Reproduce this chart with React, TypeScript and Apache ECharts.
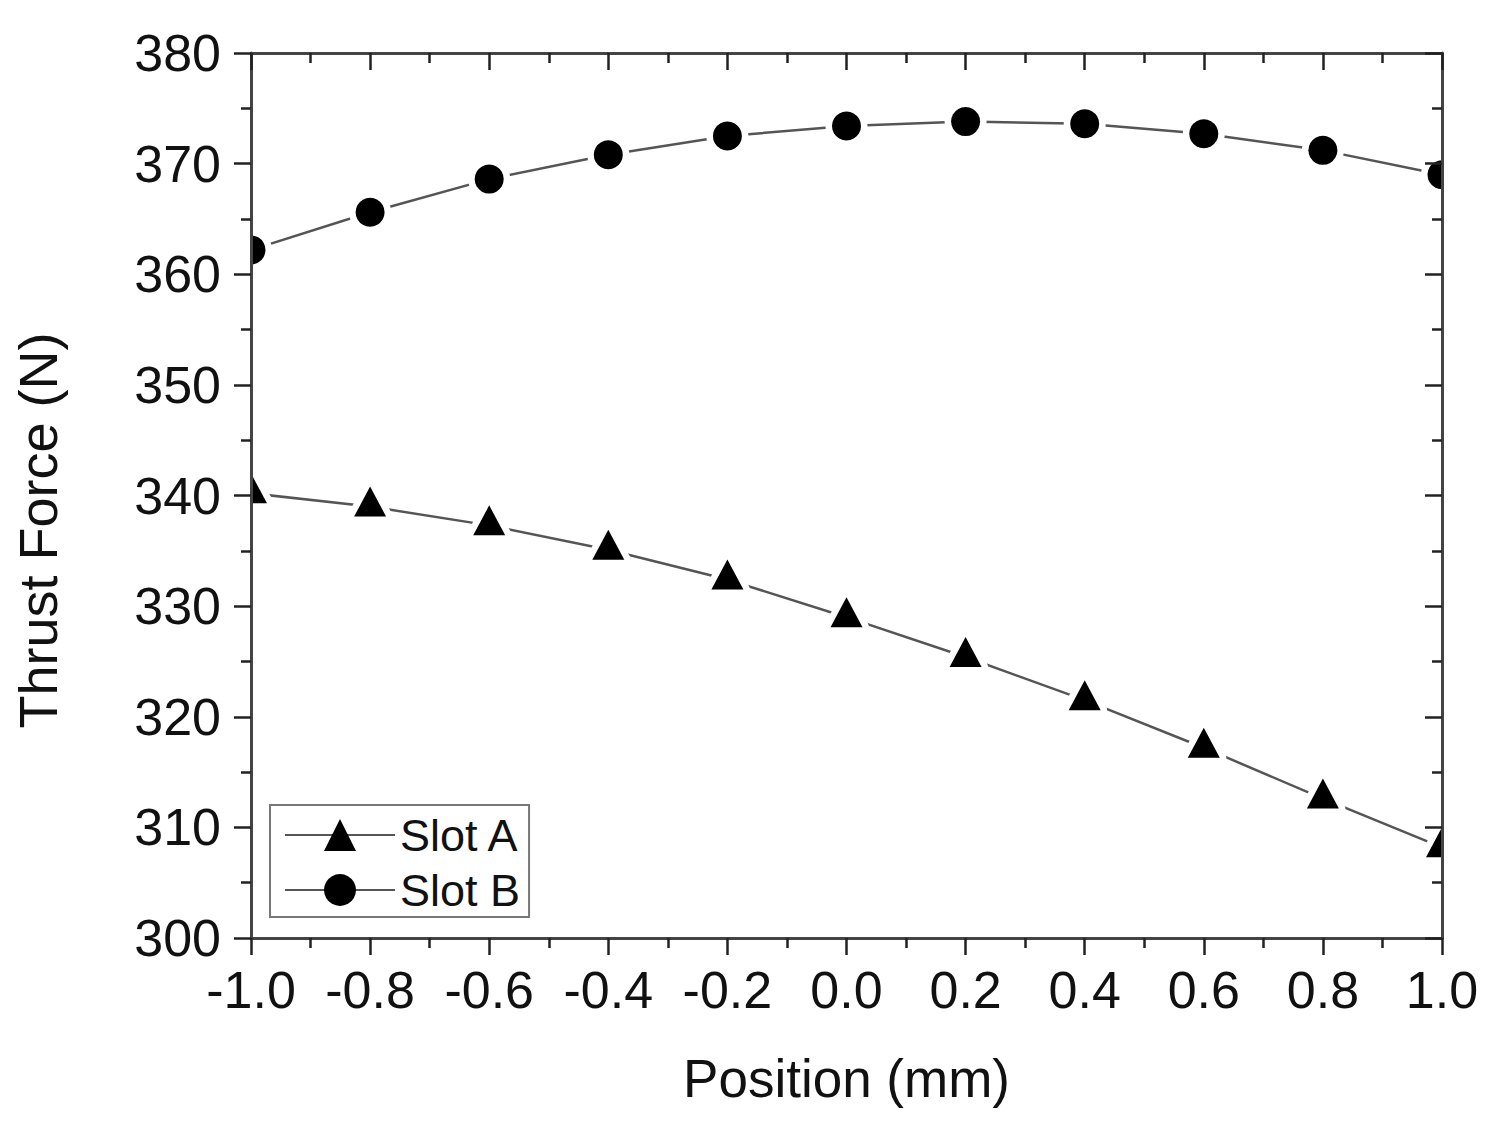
import * as echarts from "echarts"
import { useEffect, useRef } from "react"

// position along the slot (mm) and thrust force (N)
const positions = [-1.0, -0.8, -0.6, -0.4, -0.2, 0.0, 0.2, 0.4, 0.6, 0.8, 1.0]
const slotA = [340.2, 339.0, 337.3, 335.1, 332.4, 329.0, 325.4, 321.5, 317.2, 312.6, 308.2]
const slotB = [362.2, 365.6, 368.6, 370.8, 372.5, 373.4, 373.8, 373.6, 372.7, 371.2, 369.0]
const seriesNames = ["Slot A", "Slot B"]

const FONT = "Liberation Sans, Arial, Helvetica, sans-serif"
const LINE_COLOR = "#555"
const TICK_COLOR = "#222"

const toPairs = (ys: number[]) => positions.map((x, i) => [x, ys[i]])

// markers drawn with a white halo so the connecting line stops short of them,
// clipped to the plot area like the original
const markerRenderer = (kind: "triangle" | "circle") => (_params: any, api: any) => {
    const [cx, cy] = api.coord([api.value(0), api.value(1)])
    if (kind === "circle") {
        return {
            type: "group",
            children: [
                { type: "circle", z2: 1, shape: { cx, cy, r: 21 }, style: { fill: "#fff" } },
                { type: "circle", z2: 2, shape: { cx, cy, r: 14.5 }, style: { fill: "#000" } },
            ],
        }
    }
    const w = 32
    const h = 30
    const pts = [
        [cx, cy - (h * 2) / 3],
        [cx + w / 2, cy + h / 3],
        [cx - w / 2, cy + h / 3],
    ]
    return {
        type: "group",
        children: [
            {
                type: "polygon",
                z2: 1,
                shape: { points: pts },
                style: { fill: "#fff", stroke: "#fff", lineWidth: 13, lineJoin: "round" },
            },
            { type: "polygon", z2: 2, shape: { points: pts }, style: { fill: "#000" } },
        ],
    }
}

const App: React.FC = () => {
    const chartDiv = useRef<HTMLDivElement | null>(null)

    useEffect(() => {
        if (!chartDiv.current) return
        const chart = echarts.init(chartDiv.current, null, { renderer: "svg" })

        const tick = (inside: boolean) => ({
            show: true,
            inside,
            length: 17,
            lineStyle: { color: TICK_COLOR, width: 2.5 },
        })
        const minor = {
            show: true,
            splitNumber: 2,
            length: 10,
            lineStyle: { color: TICK_COLOR, width: 2.5 },
        }
        const line = { show: true, onZero: false, lineStyle: { color: "#444", width: 3 } }
        const labelStyle = { fontSize: 52, color: "#111", fontFamily: FONT }

        const option = {
            animation: false,
            backgroundColor: "#fff",
            grid: { left: 251, top: 53, width: 1191, height: 885 },
            legend: {
                orient: "vertical",
                left: 270,
                top: 805,
                data: seriesNames,
                itemWidth: 110,
                itemHeight: 40,
                itemGap: 5,
                padding: [5, 9, 2, 14],
                borderColor: "#777",
                borderWidth: 2,
                selectedMode: false,
                textStyle: { fontSize: 45, lineHeight: 50, color: "#111", fontFamily: FONT },
            },
            xAxis: [
                {
                    type: "value",
                    position: "bottom",
                    min: -1,
                    max: 1,
                    interval: 0.2,
                    z: 20,
                    axisLine: line,
                    axisTick: tick(false),
                    minorTick: minor,
                    splitLine: { show: false },
                    axisLabel: { ...labelStyle, margin: 26, formatter: (v: number) => v.toFixed(1) },
                    name: "Position (mm)",
                    nameLocation: "middle",
                    nameGap: 114,
                    nameTextStyle: { fontSize: 53, color: "#111", fontFamily: FONT },
                },
                {
                    type: "value",
                    position: "top",
                    min: -1,
                    max: 1,
                    interval: 0.2,
                    z: 20,
                    axisLine: line,
                    axisTick: tick(true),
                    minorTick: minor,
                    splitLine: { show: false },
                    axisLabel: { show: false },
                },
            ],
            yAxis: [
                {
                    type: "value",
                    position: "left",
                    min: 300,
                    max: 380,
                    interval: 10,
                    z: 20,
                    axisLine: line,
                    axisTick: tick(false),
                    minorTick: minor,
                    splitLine: { show: false },
                    axisLabel: { ...labelStyle, margin: 30 },
                    name: "Thrust Force (N)",
                    nameLocation: "middle",
                    nameGap: 186,
                    nameTextStyle: { fontSize: 54, color: "#111", fontFamily: FONT, padding: [0, 70, 0, 0] },
                },
                {
                    type: "value",
                    position: "right",
                    min: 300,
                    max: 380,
                    interval: 10,
                    z: 20,
                    axisLine: line,
                    axisTick: tick(true),
                    minorTick: minor,
                    splitLine: { show: false },
                    axisLabel: { show: false },
                },
            ],
            series: [
                {
                    type: "line",
                    name: seriesNames[0],
                    data: toPairs(slotA),
                    symbol: "triangle",
                    showSymbol: false,
                    silent: true,
                    z: 1,
                    lineStyle: { color: LINE_COLOR, width: 2.5 },
                    itemStyle: { color: "#000" },
                },
                {
                    type: "line",
                    name: seriesNames[1],
                    data: toPairs(slotB),
                    symbol: "circle",
                    showSymbol: false,
                    silent: true,
                    z: 1,
                    lineStyle: { color: LINE_COLOR, width: 2.5 },
                    itemStyle: { color: "#000" },
                },
                {
                    type: "custom",
                    name: "Slot A markers",
                    data: toPairs(slotA),
                    clip: true,
                    silent: true,
                    z: 5,
                    renderItem: markerRenderer("triangle"),
                },
                {
                    type: "custom",
                    name: "Slot B markers",
                    data: toPairs(slotB),
                    clip: true,
                    silent: true,
                    z: 5,
                    renderItem: markerRenderer("circle"),
                },
            ],
        }

        chart.setOption(option)
        return () => {
            chart.dispose()
        }
    }, [])

    return (
        <div
            ref={chartDiv}
            style={{ position: "absolute", left: 0, top: 0, width: 1498, height: 1128 }}
        ></div>
    )
}

export default App
